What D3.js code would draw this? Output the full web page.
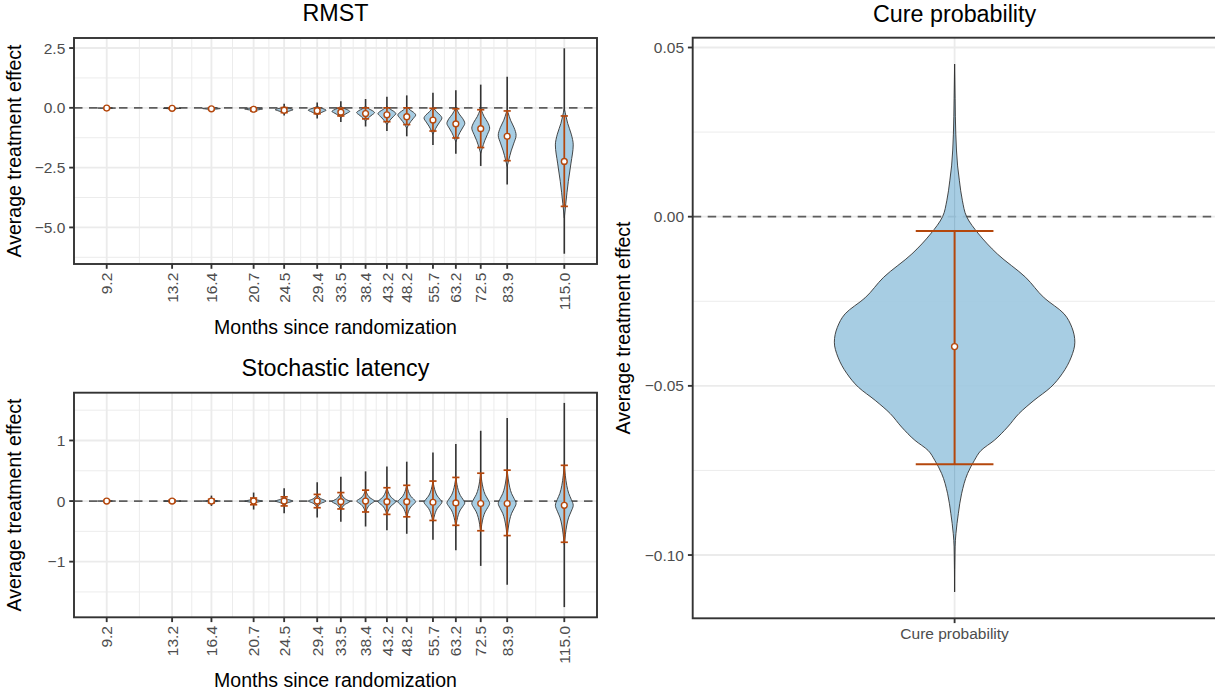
<!DOCTYPE html>
<html>
<head>
<meta charset="utf-8">
<script src="https://cdn.jsdelivr.net/npm/d3@7"></script>
<style>
  html, body { margin: 0; padding: 0; background: #ffffff; }
  svg { display: block; font-family: "Liberation Sans", Arial, Helvetica, sans-serif; }
</style>
</head>
<body>
<svg id="chart" width="1215" height="694"></svg>
<script>
// ---------------------------------------------------------------
// Data: posterior summaries of the average treatment effect
// ---------------------------------------------------------------
const months = [9.2, 13.2, 16.4, 20.7, 24.5, 29.4, 33.5, 38.4, 43.2, 48.2, 55.7, 63.2, 72.5, 83.9, 115.0];
const monthLabels = ["9.2", "13.2", "16.4", "20.7", "24.5", "29.4", "33.5", "38.4", "43.2", "48.2", "55.7", "63.2", "72.5", "83.9", "115.0"];

// RMST difference
const rmstMedian     = [-0.01, -0.02, -0.04, -0.06, -0.10, -0.12, -0.18, -0.24, -0.29, -0.37, -0.51, -0.67, -0.87, -1.19, -2.24];
const rmstLower      = [-0.03, -0.05, -0.08, -0.13, -0.20, -0.25, -0.34, -0.46, -0.58, -0.70, -0.97, -1.26, -1.66, -2.21, -4.12];
const rmstUpper      = [ 0.00,  0.00,  0.00,  0.00,  0.01,  0.00, -0.01,  0.00,  0.00,  0.00, -0.02, -0.04, -0.08, -0.13, -0.34];
const rmstMin        = [-0.05, -0.08, -0.12, -0.19, -0.32, -0.45, -0.59, -0.78, -0.97, -1.19, -1.55, -1.92, -2.43, -3.21, -6.10];
const rmstMax        = [ 0.02,  0.03,  0.05,  0.08,  0.17,  0.22,  0.28,  0.37,  0.46,  0.52,  0.63,  0.73,  0.97,  1.30,  2.49];
const rmstBodyTop    = [ 0.00,  0.00,  0.01,  0.02,  0.04,  0.06,  0.06,  0.06,  0.06,  0.05,  0.02,  0.00, -0.04, -0.10, -0.05];
const rmstMode       = [-0.01, -0.02, -0.03, -0.05, -0.08, -0.10, -0.15, -0.20, -0.24, -0.30, -0.43, -0.65, -0.85, -1.15, -1.55];
const rmstBodyBottom = [-0.03, -0.05, -0.08, -0.13, -0.22, -0.30, -0.40, -0.55, -0.70, -0.85, -1.10, -1.42, -1.90, -2.45, -4.60];
// density outline: [relative position (-1 top tip .. 0 mode .. 1 bottom tip), relative width]
const rmstProfile = [[-1, 0], [-0.9, 0.1], [-0.6, 0.38], [-0.3, 0.78], [0, 1], [0.25, 0.75], [0.5, 0.45], [0.8, 0.17], [1, 0]];
const rmstTicks = [-5, -2.5, 0, 2.5];
const rmstTickLabels = ["\u22125.0", "\u22122.5", "0.0", "2.5"];

// Stochastic latency difference
const latMedian     = [0.00, 0.00, 0.00, 0.00, 0.00, 0.00, -0.01, 0.00, -0.01, -0.01, -0.02, -0.03, -0.04, -0.04, -0.07];
const latLower      = [-0.01, -0.02, -0.03, -0.06, -0.08, -0.11, -0.13, -0.18, -0.22, -0.26, -0.32, -0.40, -0.49, -0.57, -0.68];
const latUpper      = [0.01, 0.02, 0.03, 0.05, 0.07, 0.11, 0.14, 0.18, 0.22, 0.26, 0.33, 0.39, 0.46, 0.51, 0.59];
const latMin        = [-0.02, -0.04, -0.08, -0.14, -0.20, -0.27, -0.34, -0.42, -0.48, -0.54, -0.64, -0.81, -1.07, -1.38, -1.75];
const latMax        = [0.02, 0.04, 0.09, 0.14, 0.21, 0.31, 0.40, 0.49, 0.57, 0.65, 0.80, 0.94, 1.16, 1.37, 1.62];
const latBodyTop    = [0.008, 0.015, 0.03, 0.05, 0.08, 0.11, 0.14, 0.18, 0.22, 0.26, 0.32, 0.38, 0.45, 0.50, 0.58];
const latMode       = [0.00, 0.00, 0.00, 0.00, 0.00, 0.00, -0.01, 0.00, -0.01, -0.01, -0.02, -0.03, -0.04, -0.04, -0.07];
const latBodyBottom = [-0.008, -0.015, -0.03, -0.05, -0.08, -0.11, -0.15, -0.19, -0.23, -0.27, -0.35, -0.42, -0.50, -0.58, -0.72];
const latProfile = [[-1, 0], [-0.75, 0.12], [-0.5, 0.28], [-0.3, 0.5], [-0.15, 0.78], [0, 1], [0.15, 0.78], [0.3, 0.5], [0.5, 0.28], [0.75, 0.12], [1, 0]];
const latTicks = [-1, 0, 1];
const latTickLabels = ["\u22121", "0", "1"];

// Cure probability difference
const cureCategory = ["Cure probability"];
const cureMedian = [-0.0384];
const cureLower  = [-0.0732];
const cureUpper  = [-0.0042];
const cureMin    = [-0.1109];
const cureMax    = [0.0451];
const cureDensityValue = [0.0451, 0.035, 0.0244, 0.015, 0.0106, 0.0047, 0.0, -0.0051, -0.011, -0.0179, -0.024, -0.0287, -0.0327, -0.0371,
                          -0.0415, -0.0464, -0.0504, -0.0543, -0.0582, -0.0622, -0.0661, -0.0691, -0.072, -0.0759, -0.0819, -0.0878, -0.0937, -0.0976, -0.1109];
const cureDensityWidth = [0, 0.004, 0.01, 0.025, 0.04, 0.065, 0.1, 0.2, 0.355, 0.59, 0.745, 0.91, 0.975, 1.0,
                          0.97, 0.895, 0.8, 0.66, 0.535, 0.44, 0.33, 0.22, 0.165, 0.108, 0.058, 0.031, 0.011, 0.004, 0];
const cureTicks = [-0.10, -0.05, 0.00, 0.05];
const cureTickLabels = ["\u22120.10", "\u22120.05", "0.00", "0.05"];

// ---------------------------------------------------------------
// Styling
// ---------------------------------------------------------------
const COL = {
  grid: "#EBEBEB", border: "#333333", tickText: "#4D4D4D", title: "#000000",
  fill: "#9DC8E0", outline: "#333333", accent: "#B4470C", ref: "#5E5E5E"
};
const FS = { title: 23.3, axisTitle: 19.5, tick: 15.5 };
const LW = { major: 1.85, minor: 0.93, border: 1.9, tick: 1.85 };
const TICK_LEN = 4.8, TICK_GAP = 3.9;

const svg = d3.select("#chart");
svg.append("rect").attr("width", 1215).attr("height", 694).attr("fill", "#ffffff");

function expand([lo, hi], f = 0.05) { const d = (hi - lo) * f; return [lo - d, hi + d]; }

// ggplot-style minor breaks: midpoints between majors (extended by one step at both ends)
function minorBreaks(majors, domain) {
  const step = majors[1] - majors[0];
  const b = [majors[0] - step, ...majors, majors[majors.length - 1] + step];
  const out = [];
  for (let i = 0; i < b.length - 1; i++) out.push((b[i] + b[i + 1]) / 2);
  return out.filter(v => v > domain[0] && v < domain[1]);
}

function drawAxisY(g, box, y, ticks, labels) {
  g.selectAll(null).data(ticks).enter().append("line")
    .attr("x1", box.x0 - TICK_LEN).attr("x2", box.x0)
    .attr("y1", d => y(d)).attr("y2", d => y(d))
    .attr("stroke", COL.border).attr("stroke-width", LW.tick);
  g.selectAll(null).data(ticks).enter().append("text")
    .attr("x", box.x0 - TICK_LEN - TICK_GAP).attr("y", d => y(d)).attr("dy", "0.36em")
    .attr("text-anchor", "end").attr("font-size", FS.tick).attr("fill", COL.tickText)
    .text((d, i) => labels[i]);
}

function drawTitles(g, box, title, titleBaseline, xTitle, xTitleBaseline, yTitleX) {
  const cx = (box.x0 + box.x1) / 2, cy = (box.y0 + box.y1) / 2;
  g.append("text").attr("x", cx).attr("y", titleBaseline).attr("text-anchor", "middle")
    .attr("font-size", FS.title).attr("fill", COL.title).text(title);
  if (xTitle) {
    g.append("text").attr("x", cx).attr("y", xTitleBaseline).attr("text-anchor", "middle")
      .attr("font-size", FS.axisTitle).attr("fill", COL.title).text(xTitle);
  }
  g.append("text").attr("transform", `translate(${yTitleX},${cy}) rotate(-90)`)
    .attr("text-anchor", "middle").attr("font-size", FS.axisTitle).attr("fill", COL.title)
    .text("Average treatment effect");
}

function drawErrorbar(g, cx, y, lo, hi, med, capHalf, lw, r) {
  g.append("line").attr("x1", cx).attr("x2", cx).attr("y1", y(hi)).attr("y2", y(lo))
    .attr("stroke", COL.accent).attr("stroke-width", lw);
  [lo, hi].forEach(v => {
    g.append("line").attr("x1", cx - capHalf).attr("x2", cx + capHalf).attr("y1", y(v)).attr("y2", y(v))
      .attr("stroke", COL.accent).attr("stroke-width", lw);
  });
  g.append("circle").attr("cx", cx).attr("cy", y(med)).attr("r", r)
    .attr("fill", "#ffffff").attr("stroke", COL.accent).attr("stroke-width", 1.4);
}

// ---------------------------------------------------------------
// Panels over time (log-scaled x axis)
// ---------------------------------------------------------------
function timePanel(box, s) {
  const g = svg.append("g");
  const lnM = months.map(Math.log);
  const minGap = d3.min(d3.pairs(lnM), ([a, b]) => b - a);
  const half = 0.45 * minGap;                       // violin half-width in ln units
  const lx = expand([d3.min(lnM) - half, d3.max(lnM) + half]);
  const x = d3.scaleLog().domain([Math.exp(lx[0]), Math.exp(lx[1])]).range([box.x0, box.x1]);
  const yDom = expand([d3.min(s.min), d3.max(s.max)]);
  const y = d3.scaleLinear().domain(yDom).range([box.y1, box.y0]);

  // grid
  const yMinor = minorBreaks(s.ticks, yDom);
  const xMinor = d3.pairs(months).map(([a, b]) => Math.sqrt(a * b));
  g.selectAll(null).data(yMinor).enter().append("line")
    .attr("x1", box.x0).attr("x2", box.x1).attr("y1", d => y(d)).attr("y2", d => y(d))
    .attr("stroke", COL.grid).attr("stroke-width", LW.minor);
  g.selectAll(null).data(xMinor).enter().append("line")
    .attr("y1", box.y0).attr("y2", box.y1).attr("x1", d => x(d)).attr("x2", d => x(d))
    .attr("stroke", COL.grid).attr("stroke-width", LW.minor);
  g.selectAll(null).data(s.ticks).enter().append("line")
    .attr("x1", box.x0).attr("x2", box.x1).attr("y1", d => y(d)).attr("y2", d => y(d))
    .attr("stroke", COL.grid).attr("stroke-width", LW.major);
  g.selectAll(null).data(months).enter().append("line")
    .attr("y1", box.y0).attr("y2", box.y1).attr("x1", d => x(d)).attr("x2", d => x(d))
    .attr("stroke", COL.grid).attr("stroke-width", LW.major);

  // reference line at zero
  g.append("line").attr("x1", box.x0).attr("x2", box.x1).attr("y1", y(0)).attr("y2", y(0))
    .attr("stroke", COL.ref).attr("stroke-width", 1.85).attr("stroke-dasharray", "8.5,6.5");

  // violins
  const area = d3.area().curve(d3.curveMonotoneY);
  months.forEach((m, i) => {
    const cx = x(m);
    const hp = x(m * Math.exp(half)) - cx;
    const top = s.bodyTop[i], mode = s.mode[i], bot = s.bodyBottom[i];
    const pts = s.profile.map(([t, w]) => ({
      v: t <= 0 ? mode - t * (top - mode) : mode - t * (mode - bot), w
    }));
    g.append("line").attr("x1", cx).attr("x2", cx).attr("y1", y(s.max[i])).attr("y2", y(s.min[i]))
      .attr("stroke", COL.outline).attr("stroke-width", 1.6);
    g.append("path")
      .attr("d", area.y(d => y(d.v)).x0(d => cx - d.w * hp).x1(d => cx + d.w * hp)(pts))
      .attr("fill", COL.fill).attr("fill-opacity", 0.9)
      .attr("stroke", COL.outline).attr("stroke-width", 0.9);
    drawErrorbar(g, cx, y, s.lower[i], s.upper[i], s.median[i], 3.6, 1.7, 2.9);
  });

  // border
  g.append("rect").attr("x", box.x0).attr("y", box.y0)
    .attr("width", box.x1 - box.x0).attr("height", box.y1 - box.y0)
    .attr("fill", "none").attr("stroke", COL.border).attr("stroke-width", LW.border);

  // axes
  drawAxisY(g, box, y, s.ticks, s.tickLabels);
  g.selectAll(null).data(months).enter().append("line")
    .attr("x1", d => x(d)).attr("x2", d => x(d)).attr("y1", box.y1).attr("y2", box.y1 + TICK_LEN)
    .attr("stroke", COL.border).attr("stroke-width", LW.tick);
  g.selectAll(null).data(months).enter().append("text")
    .attr("transform", d => `translate(${x(d)},${box.y1 + TICK_LEN + TICK_GAP}) rotate(-90)`)
    .attr("dy", "0.36em").attr("text-anchor", "end")
    .attr("font-size", FS.tick).attr("fill", COL.tickText)
    .text((d, i) => monthLabels[i]);

  drawTitles(g, box, s.title, s.titleBaseline, "Months since randomization", s.xTitleBaseline, 21);
}

timePanel({ x0: 74, x1: 597, y0: 38, y1: 264 }, {
  title: "RMST", titleBaseline: 21, xTitleBaseline: 333.5,
  median: rmstMedian, lower: rmstLower, upper: rmstUpper, min: rmstMin, max: rmstMax,
  bodyTop: rmstBodyTop, mode: rmstMode, bodyBottom: rmstBodyBottom, profile: rmstProfile,
  ticks: rmstTicks, tickLabels: rmstTickLabels
});

timePanel({ x0: 74, x1: 597, y0: 392.7, y1: 617.3 }, {
  title: "Stochastic latency", titleBaseline: 375.5, xTitleBaseline: 687,
  median: latMedian, lower: latLower, upper: latUpper, min: latMin, max: latMax,
  bodyTop: latBodyTop, mode: latMode, bodyBottom: latBodyBottom, profile: latProfile,
  ticks: latTicks, tickLabels: latTickLabels
});

// ---------------------------------------------------------------
// Cure probability panel (single category)
// ---------------------------------------------------------------
(function curePanel() {
  const box = { x0: 692.7, x1: 1216.5, y0: 37.7, y1: 618.3 };
  const g = svg.append("g");
  const x = d3.scaleLinear().domain([0.4, cureCategory.length + 0.6]).range([box.x0, box.x1]);
  const yDom = expand([d3.min(cureMin), d3.max(cureMax)]);
  const y = d3.scaleLinear().domain(yDom).range([box.y1, box.y0]);
  const violinWidth = 0.551, barWidth = 0.178;

  // grid
  g.selectAll(null).data(minorBreaks(cureTicks, yDom)).enter().append("line")
    .attr("x1", box.x0).attr("x2", box.x1).attr("y1", d => y(d)).attr("y2", d => y(d))
    .attr("stroke", COL.grid).attr("stroke-width", LW.minor);
  g.selectAll(null).data(cureTicks).enter().append("line")
    .attr("x1", box.x0).attr("x2", box.x1).attr("y1", d => y(d)).attr("y2", d => y(d))
    .attr("stroke", COL.grid).attr("stroke-width", LW.major);
  g.selectAll(null).data(cureCategory).enter().append("line")
    .attr("x1", (d, i) => x(i + 1)).attr("x2", (d, i) => x(i + 1)).attr("y1", box.y0).attr("y2", box.y1)
    .attr("stroke", COL.grid).attr("stroke-width", LW.major);

  g.append("line").attr("x1", box.x0).attr("x2", box.x1).attr("y1", y(0)).attr("y2", y(0))
    .attr("stroke", COL.ref).attr("stroke-width", 1.85).attr("stroke-dasharray", "8.5,6.5");

  cureCategory.forEach((c, i) => {
    const cx = x(i + 1);
    const hp = x(1 + violinWidth / 2) - x(1);
    const pts = cureDensityValue.map((v, k) => ({ v, w: cureDensityWidth[k] }));
    g.append("line").attr("x1", cx).attr("x2", cx).attr("y1", y(cureMax[i])).attr("y2", y(cureMin[i]))
      .attr("stroke", COL.outline).attr("stroke-width", 1.0);
    g.append("path")
      .attr("d", d3.area().curve(d3.curveMonotoneY)
        .y(d => y(d.v)).x0(d => cx - d.w * hp).x1(d => cx + d.w * hp)(pts))
      .attr("fill", COL.fill).attr("fill-opacity", 0.9)
      .attr("stroke", COL.outline).attr("stroke-width", 0.9);
    const capHalf = x(1 + barWidth / 2) - x(1);
    drawErrorbar(g, cx, y, cureLower[i], cureUpper[i], cureMedian[i], capHalf, 2.0, 3.0);
  });

  g.append("rect").attr("x", box.x0).attr("y", box.y0)
    .attr("width", box.x1 - box.x0).attr("height", box.y1 - box.y0)
    .attr("fill", "none").attr("stroke", COL.border).attr("stroke-width", LW.border);

  drawAxisY(g, box, y, cureTicks, cureTickLabels);
  g.selectAll(null).data(cureCategory).enter().append("line")
    .attr("x1", (d, i) => x(i + 1)).attr("x2", (d, i) => x(i + 1))
    .attr("y1", box.y1).attr("y2", box.y1 + TICK_LEN)
    .attr("stroke", COL.border).attr("stroke-width", LW.tick);
  g.selectAll(null).data(cureCategory).enter().append("text")
    .attr("x", (d, i) => x(i + 1)).attr("y", box.y1 + TICK_LEN + TICK_GAP).attr("dy", "0.78em")
    .attr("text-anchor", "middle").attr("font-size", FS.tick).attr("fill", COL.tickText)
    .text(d => d);

  drawTitles(g, box, "Cure probability", 21.5, null, null, 630);
})();
</script>
</body>
</html>
